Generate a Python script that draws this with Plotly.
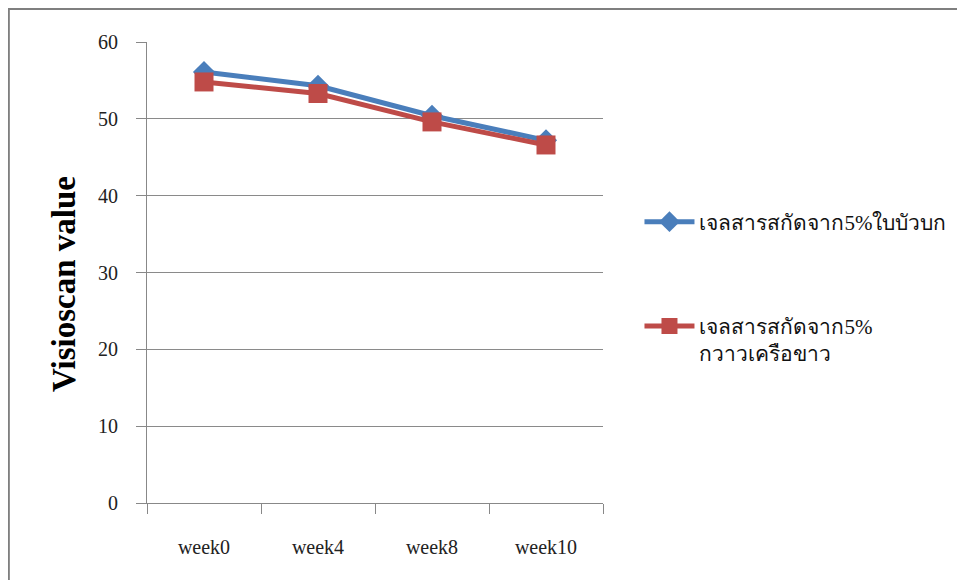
import plotly.graph_objects as go

categories = ["week0", "week4", "week8", "week10"]
series1_name = "เจลสารสกัดจาก5%ใบบัวบก"
series1_values = [56.1, 54.3, 50.4, 47.2]
series2_name = "เจลสารสกัดจาก5%<br>กวาวเครือขาว"
series2_values = [54.8, 53.3, 49.6, 46.6]
y_ticks = [0, 10, 20, 30, 40, 50, 60]
y_title = "Visioscan value"

fig = go.Figure()
fig.add_trace(go.Scatter(
    x=categories, y=series1_values, name=series1_name, mode="lines+markers",
    legendgroup="g1",
    line=dict(color="#4A7EBB", width=5),
    marker=dict(symbol="diamond", size=17, color="#4A7EBB"),
))
fig.add_trace(go.Scatter(
    x=categories, y=series2_values, name=series2_name, mode="lines+markers",
    legendgroup="g2",
    line=dict(color="#BE4B48", width=5),
    marker=dict(symbol="square", size=19, color="#BE4B48"),
))

fig.update_layout(
    width=965, height=580,
    margin=dict(l=139, r=370, t=34, b=85),
    paper_bgcolor="white", plot_bgcolor="white",
    font=dict(family="Liberation Serif, Noto Sans, serif", size=20, color="#222"),
    showlegend=True,
    legend=dict(x=1.08, y=0.654, xanchor="left", yanchor="top", valign="top",
                font=dict(size=21, color="#111"), tracegroupgap=74, itemwidth=50,
                bgcolor="rgba(0,0,0,0)"),
    xaxis=dict(type="category", range=[-0.5, 3.5], showgrid=False,
               showline=True, linecolor="#888", linewidth=1,
               ticks="outside", tickson="boundaries", ticklen=10, tickcolor="#888",
               ticklabelstandoff=26, tickfont=dict(size=20)),
    yaxis=dict(range=[0, 60], tickvals=y_ticks, showgrid=True, gridcolor="#8a8a8a",
               gridwidth=1, showline=True, linecolor="#888", linewidth=1,
               ticks="outside", ticklen=10, tickcolor="#888", zeroline=False,
               ticklabelstandoff=14, tickfont=dict(size=20)),
    annotations=[dict(text="<b>" + y_title + "</b>", textangle=-90, xref="paper", yref="paper",
                      x=-0.182, y=0.475, xanchor="center", yanchor="middle", showarrow=False,
                      font=dict(size=33, family="Liberation Serif, serif", color="#000"))],
    shapes=[dict(type="rect", xref="paper", yref="paper",
                 x0=-0.303, x1=1.781, y0=-0.2, y1=1.0716,
                 line=dict(color="#7f7f7f", width=2), fillcolor="rgba(0,0,0,0)", layer="below")],
)

fig.write_html("out.html")
